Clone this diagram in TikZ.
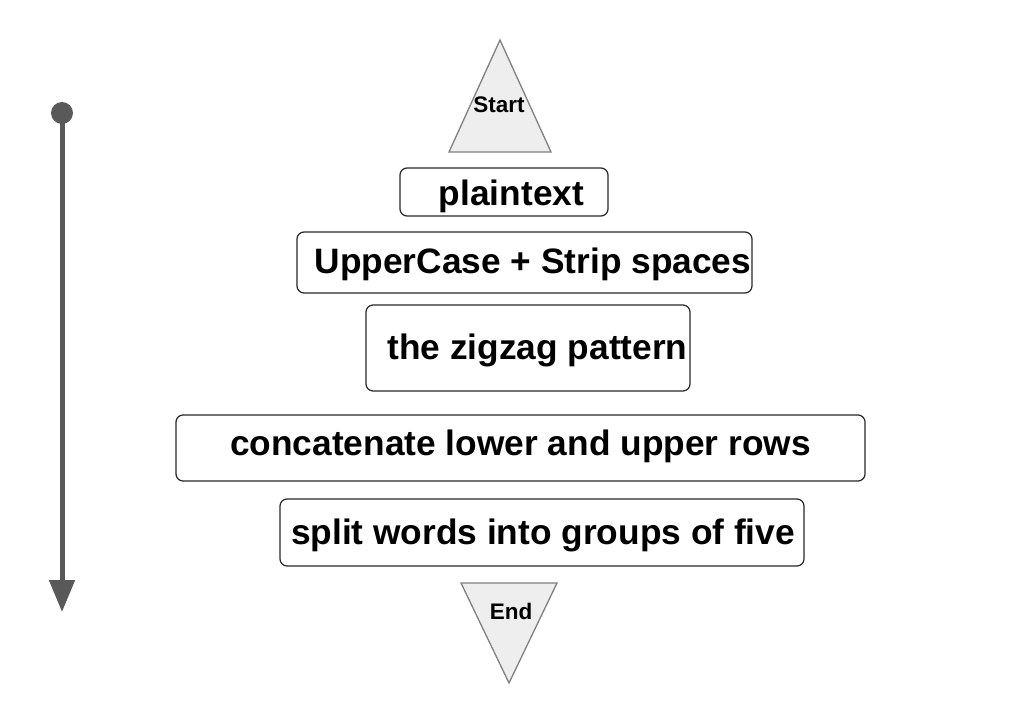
\documentclass[tikz,border=0pt]{standalone}
\usepackage{fontspec}
\setmainfont{Liberation Sans}
\usetikzlibrary{arrows.meta}
\definecolor{arrowgray}{HTML}{595959}
\definecolor{trifill}{HTML}{EEEEEE}
\definecolor{tristroke}{HTML}{808080}
\begin{document}
\begin{tikzpicture}[x=1pt,y=-1pt,
  stepbox/.style={draw=black!85, line width=1.2pt, rounded corners=7pt, inner sep=0pt,
    text height=26pt, font=\fontsize{35.3}{40}\selectfont\bfseries},
  tri/.style={fill=trifill, draw=tristroke, line width=1.3pt, line join=miter},
  trilabel/.style={font=\fontsize{22.5}{26}\selectfont\bfseries, inner sep=0pt},
  flowarrow/.style={draw=arrowgray, line width=5pt, -{Triangle[length=32pt,width=25pt]}}]
\useasboundingbox (0,0) rectangle (1024,722);
% start triangle
\path[tri] (500,40) -- (551,152) -- (449,152) -- cycle;
\node[trilabel] (start) at (499,105) {Start};
% boxes
\node[stepbox, text depth=0pt, minimum width=208pt, minimum height=48pt] (plain) at (504,192) {\hspace*{15pt}plaintext};
\node[stepbox, text depth=5pt, minimum width=455pt, minimum height=61pt] (upper) at (524.5,262.5) {\hspace*{17pt}UpperCase + Strip spaces};
\node[stepbox, text depth=4pt, minimum width=324pt, minimum height=86pt] (zigzag) at (528,348) {\hspace*{19pt}the zigzag pattern};
\node[stepbox, text depth=12pt, minimum width=689pt, minimum height=66pt] (concat) at (520.5,448) {concatenate lower and upper rows};
\node[stepbox, text depth=3pt, minimum width=524pt, minimum height=67pt] (split) at (542,532.5) {\hspace*{2pt}split words into groups of five};
% end triangle
\path[tri] (461,583) -- (557,583) -- (509,683) -- cycle;
\node[trilabel] (end) at (511,611) {End};
% arrow
\coordinate (atop) at (62,113);
\coordinate (abot) at (62,612);
\fill[arrowgray] (atop) circle (11pt);
\draw[flowarrow] (atop) -- (abot);
\end{tikzpicture}
\end{document}
